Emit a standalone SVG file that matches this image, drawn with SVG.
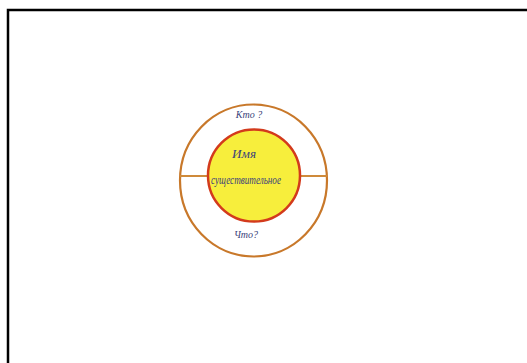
<svg xmlns="http://www.w3.org/2000/svg" width="527" height="363" viewBox="0 0 527 363">
<style>
.hand{font-family:"Liberation Serif","DejaVu Serif",serif;font-style:italic;fill:#3a3f7a;}
.ring{fill:none;stroke:#c8782a;stroke-width:2.2;}
</style>
<rect x="0" y="0" width="527" height="363" fill="#ffffff"/>
<path d="M8 363 V10 H527" fill="none" stroke="#000" stroke-width="2.5"/>
<g id="outer">
<ellipse cx="253.5" cy="180.5" rx="73.5" ry="76" class="ring"/>
</g>
<g id="connectors">
<line x1="180" y1="176" x2="327" y2="176" stroke="#cf8a3a" stroke-width="1.8"/>
</g>
<g id="inner">
<circle cx="254" cy="175.5" r="46" fill="#f7ee3c" stroke="#d33a1c" stroke-width="2.5"/>
<text x="232" y="158" class="hand" font-size="13" textLength="24" lengthAdjust="spacingAndGlyphs">Имя</text>
<text x="211" y="184" class="hand" font-size="12" textLength="70" lengthAdjust="spacingAndGlyphs">существительное</text>
</g>
<g id="label-top">
<text x="249" y="118" class="hand" font-size="10" text-anchor="middle">Кто ?</text>
</g>
<g id="label-bottom">
<text x="246" y="238" class="hand" font-size="10" text-anchor="middle">Что?</text>
</g>
</svg>
